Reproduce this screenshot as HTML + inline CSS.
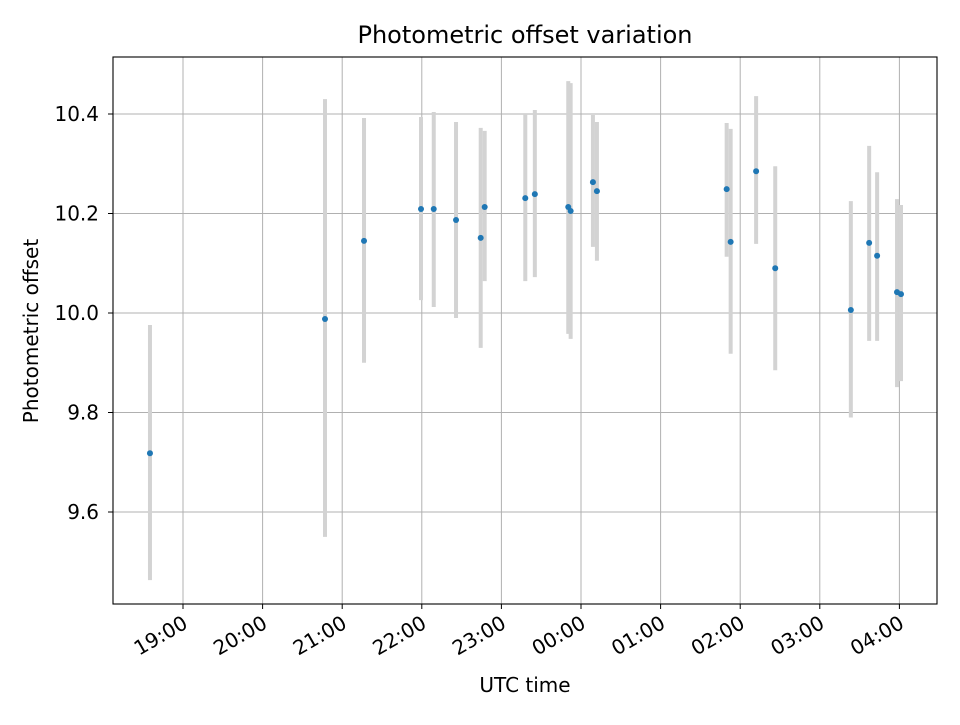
<!DOCTYPE html>
<html><head><meta charset="utf-8"><style>
body{margin:0;background:#fff;}
svg text{font-family:"DejaVu Sans","Liberation Sans",sans-serif;fill:#000;}
</style></head><body>
<svg id="chart" width="960" height="720" xmlns="http://www.w3.org/2000/svg">
<rect width="960" height="720" fill="#fff"/>
<g id="grid"></g><g id="errs"></g><g id="pts"></g>
<rect x="113" y="57" width="824" height="547" fill="none" stroke="#000" stroke-width="1.1"/>
<g id="axes"></g>
<text x="525" y="43" text-anchor="middle" font-size="24">Photometric offset variation</text>
<text x="525" y="692" text-anchor="middle" font-size="20">UTC time</text>
<text transform="translate(38,331) rotate(-90)" text-anchor="middle" font-size="20">Photometric offset</text>
</svg>
<script>
// times in hours after 19:00
const times=[-0.415,1.784,2.274,2.99,3.15,3.43,3.74,3.79,4.30,4.42,4.84,4.87,5.15,5.20,6.83,6.88,7.20,7.44,8.39,8.62,8.72,8.97,9.02];
const values=[9.718,9.988,10.145,10.209,10.209,10.187,10.151,10.213,10.231,10.239,10.213,10.205,10.263,10.245,10.249,10.143,10.285,10.09,10.006,10.141,10.115,10.042,10.038];
const errHigh=[9.976,10.43,10.392,10.394,10.404,10.384,10.372,10.366,10.40,10.408,10.466,10.462,10.398,10.384,10.382,10.37,10.436,10.295,10.225,10.336,10.283,10.229,10.217];
const errLow=[9.463,9.55,9.90,10.026,10.012,9.99,9.93,10.064,10.064,10.072,9.958,9.948,10.133,10.105,10.113,9.918,10.139,9.885,9.79,9.944,9.944,9.851,9.863];
const yTicks=[9.6,9.8,10.0,10.2,10.4];
const xTicks=[0,1,2,3,4,5,6,7,8,9];
const xTickLabels=["19:00","20:00","21:00","22:00","23:00","00:00","01:00","02:00","03:00","04:00"];
const NS="http://www.w3.org/2000/svg";
const X=h=>183+h*79.6;
const Y=v=>313-(v-10)*497.5;
function mk(tag,attrs,parent){const e=document.createElementNS(NS,tag);for(const k in attrs)e.setAttribute(k,attrs[k]);document.getElementById(parent).appendChild(e);return e;}
yTicks.forEach(v=>{
 const y=Y(v);
 const g=mk('line',{x1:113,x2:937,y1:y,y2:y,stroke:'#b0b0b0','stroke-width':1},'grid');
 
 
 const t=mk('line',{x1:108,x2:113,y1:y,y2:y,stroke:'#000'},'axes');
 
 
 const l=mk('text',{x:99,y:y+7,'text-anchor':'end','font-size':20},'axes');
 l.textContent=v.toFixed(1);
 
 
});
xTicks.forEach((h,i)=>{
 const x=X(h);
 const g=mk('line',{x1:x,x2:x,y1:57,y2:604,stroke:'#b0b0b0','stroke-width':1},'grid');
 
 
 const t=mk('line',{x1:x,x2:x,y1:604,y2:609,stroke:'#000'},'axes');
 
 
 const l=mk('text',{transform:`translate(${x+6},${627}) rotate(-30)`,'text-anchor':'end','font-size':20},'axes');
 l.textContent=xTickLabels[i];
 
 
});
times.forEach((h,i)=>{
 const x=X(h);
 const e=mk('line',{x1:x,x2:x,y1:Y(errHigh[i]),y2:Y(errLow[i]),stroke:'#d3d3d3','stroke-width':4},'errs');
 
 
 const p=mk('circle',{cx:x,cy:Y(values[i]),r:3,fill:'#1f77b4'},'pts');
 
 
});
</script>
</body></html>
